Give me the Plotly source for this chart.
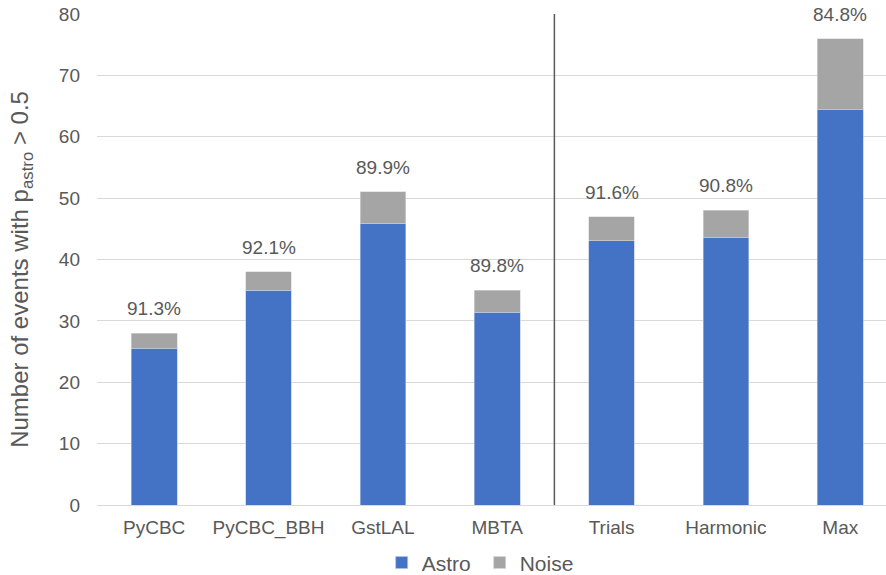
import plotly.graph_objects as go

# Pipelines and combination methods
categories = ["PyCBC", "PyCBC_BBH", "GstLAL", "MBTA", "Trials", "Harmonic", "Max"]
# Total events with p_astro > 0.5 and the expected astrophysical count among them
totals = [28, 38, 51, 35, 47, 48, 76]
astro = [25.56, 35.0, 45.85, 31.43, 43.05, 43.58, 64.45]
noise = [t - a for t, a in zip(totals, astro)]
purity_labels = ["91.3%", "92.1%", "89.9%", "89.8%", "91.6%", "90.8%", "84.8%"]

FONT = "Liberation Sans, Arial, sans-serif"
TXT = "#595959"

fig = go.Figure()
fig.add_trace(go.Bar(
    x=categories, y=astro, name="Astro",
    marker=dict(color="#4472C4", line=dict(color="#B4C7E7", width=0.6)),
    width=0.4,
))
fig.add_trace(go.Bar(
    x=categories, y=noise, name="Noise",
    marker=dict(color="#A5A5A5", line=dict(color="#D9D9D9", width=0.6)),
    width=0.4,
))

for c, t, lab in zip(categories, totals, purity_labels):
    fig.add_annotation(
        x=c, y=t, text=lab, showarrow=False,
        yanchor="bottom", yshift=12,
        font=dict(family=FONT, size=19, color=TXT),
    )

# Vertical axis title
fig.add_annotation(
    xref="paper", yref="paper", x=-0.095, y=0.479,
    text="Number of events with p<sub>astro</sub> > 0.5",
    textangle=-90, showarrow=False,
    xanchor="center", yanchor="middle",
    font=dict(family=FONT, size=24, color=TXT),
)

# Separator between single pipelines and combined methods
fig.add_shape(
    type="line", xref="x", yref="y",
    x0=3.5, x1=3.5, y0=0, y1=80,
    line=dict(color="#595959", width=1.5),
)

fig.update_layout(
    barmode="stack",
    width=886, height=575,
    margin=dict(l=97, r=0, t=14, b=70, autoexpand=False),
    paper_bgcolor="white", plot_bgcolor="white",
    font=dict(family=FONT, size=19, color=TXT),
    bargap=0.6,
    legend=dict(
        orientation="h", traceorder="normal",
        x=0.485, xanchor="center",
        y=-0.118, yanchor="middle",
        font=dict(family=FONT, size=21, color=TXT),
        itemwidth=30,
        entrywidth=53,
    ),
)
fig.update_xaxes(
    range=[-0.5, 6.4],
    showgrid=False, showline=False, ticks="",
    tickfont=dict(family=FONT, size=19, color=TXT),
    ticklabelstandoff=9,
)
fig.update_yaxes(
    range=[0, 80], dtick=10,
    showgrid=True, gridcolor="#D9D9D9", gridwidth=1,
    zeroline=True, zerolinecolor="#D9D9D9", zerolinewidth=1,
    showline=False, ticks="",
    tickfont=dict(family=FONT, size=19, color=TXT),
    ticklabelstandoff=16,
)

fig.write_html("out.html")
